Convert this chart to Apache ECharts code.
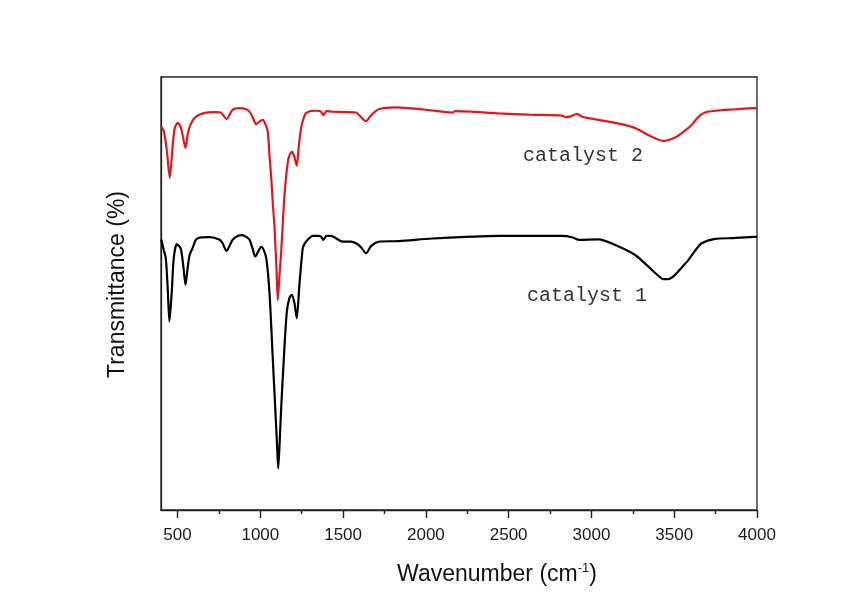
<!DOCTYPE html>
<html>
<head>
    <meta charset="utf-8">
    <title>FTIR</title>
    <script src="https://cdn.jsdelivr.net/npm/echarts@6/dist/echarts.min.js"></script>
    <style>
        html, body { margin: 0; padding: 0; background: #fff; }
        #chart { width: 862px; height: 604px; }
    </style>
</head>
<body>
    <div id="chart"></div>
<script type="text/javascript">
    // wavenumber (cm-1) and transmittance readings
    var wn2 = [402,417,435,453,471,483,501,519,534,548,561,573,604,652,724,760,796,832,875,911,935,953,974,995,1015,1031,1045,1055,1066,1076,1086,1098,1105,1116,1126,1146,1166,1179,1192,1206,1220,1233,1246,1260,1277,1326,1363,1381,1399,1435,1507,1578,1607,1638,1670,1718,1819,1989,2160,2176,2441,2622,2822,2843,2875,2913,2943,2983,3104,3194,3264,3364,3435,3505,3555,3605,3646,3686,3746,3856,3987,4000];
    var t2 = [88.5,87.5,83.1,76.7,84.3,88.2,89.4,88.5,85.9,83.6,86.6,88.5,90.6,91.6,91.9,91.8,90.3,92.4,92.8,92.6,92.0,90.8,89.1,89.7,90.1,89.1,87.4,82.0,76.7,70.4,65.1,55.4,48.5,54.3,59.7,72.7,80.4,82.2,82.7,81.5,79.5,84.3,88.2,90.3,91.7,92.2,92.1,91.2,92.1,92.0,91.9,91.8,90.8,89.8,91.2,92.6,93.0,92.5,91.8,92.1,91.6,91.3,91.1,90.7,90.9,91.5,90.8,90.5,89.7,89.0,88.2,86.2,85.2,86.0,87.3,88.9,90.8,91.8,92.2,92.5,92.8,92.8];

    var wn1 = [402,417,429,441,451,465,477,495,519,534,548,561,573,592,610,634,694,754,772,796,814,833,863,893,917,935,953,969,986,1005,1019,1036,1055,1075,1090,1101,1108,1116,1126,1142,1160,1176,1190,1206,1220,1236,1256,1266,1286,1316,1346,1365,1381,1399,1427,1497,1548,1578,1608,1638,1670,1718,1839,2039,2441,2822,2882,2923,3043,3144,3264,3344,3392,3435,3465,3505,3543,3585,3628,3666,3746,3856,3987,4000];
    var t1 = [62.4,60.0,58.2,50.8,43.5,50.4,58.2,61.4,60.4,56.6,52.0,55.9,58.9,60.6,62.4,62.9,63.0,62.4,61.6,59.8,61.0,62.4,63.3,63.5,63.0,62.4,60.4,58.5,59.6,60.8,60.2,58.1,50.4,35.1,23.6,15.0,9.6,15.0,23.6,35.1,45.8,49.0,49.7,47.8,44.3,52.0,60.4,61.4,62.4,63.3,63.3,63.2,62.4,63.3,63.3,62.0,62.0,61.6,60.7,59.3,61.0,62.0,62.1,62.7,63.3,63.3,63.0,62.4,62.5,61.2,58.9,56.2,54.5,53.3,53.3,54.3,55.9,57.7,60.0,61.6,62.6,62.8,63.1,63.1];

    var majorTicks = [500,1000,1500,2000,2500,3000,3500,4000];
    var minorTicks = [750,1250,1750,2250,2750,3250,3750];

    function pairs(xs, ys) {
        var out = [];
        for (var i = 0; i < xs.length; i++) out.push([xs[i], ys[i]]);
        return out;
    }

    // extra bottom axis that only draws a set of ticks
    function tickAxis(values, len) {
        return {
            type: 'value', min: 400, max: 4000, position: 'bottom',
            splitLine: { show: false },
            axisLine: { show: false },
            axisLabel: { show: false },
            axisTick: { show: true, inside: false, length: len, customValues: values,
                lineStyle: { color: '#222', width: 1.4 } }
        };
    }

    var myChart = echarts.init(document.getElementById('chart'));
    myChart.setOption({
        backgroundColor: '#fff',
        animation: false,
        grid: {
            left: 161, right: 105, top: 77, bottom: 94,
            containLabel: false, outerBoundsMode: 'none',
            show: true, borderColor: '#222', borderWidth: 1.3
        },
        xAxis: [{
            type: 'value', min: 400, max: 4000,
            splitLine: { show: false },
            axisLine: { show: true, lineStyle: { color: '#222', width: 1.3 } },
            axisTick: { show: false },
            axisLabel: { customValues: majorTicks, margin: 17, color: '#1a1a1a', fontSize: 17,
                fontFamily: 'Liberation Sans',
                formatter: function (v) { return String(v); } },
            name: '{a|Wavenumber (cm}{s|-1}{a|)}',
            nameLocation: 'middle', nameGap: 52,
            nameTextStyle: {
                padding: [0, 0, 0, 76],
                rich: {
                    a: { fontSize: 23, color: '#111', fontFamily: 'Liberation Sans' },
                    s: { fontSize: 13, color: '#111', fontFamily: 'Liberation Sans',
                        verticalAlign: 'top', padding: [0, 0, 12, 0] }
                }
            }
        }, tickAxis(majorTicks, 8), tickAxis(minorTicks, 4)],
        yAxis: {
            type: 'value', min: 0, max: 100,
            splitLine: { show: false },
            axisLine: { show: true, lineStyle: { color: '#222', width: 1.3 } },
            axisTick: { show: false },
            axisLabel: { show: false },
            name: 'Transmittance (%)',
            nameLocation: 'middle', nameGap: 32,
            nameTextStyle: { fontSize: 23, color: '#111', fontFamily: 'Liberation Sans',
                padding: [0, 0, 0, 18] }
        },
        graphic: [
            { type: 'text', left: 523, top: 146,
              style: { text: 'catalyst 2', fontSize: 20, fill: '#333', fontFamily: 'Liberation Mono' } },
            { type: 'text', left: 527, top: 286,
              style: { text: 'catalyst 1', fontSize: 20, fill: '#333', fontFamily: 'Liberation Mono' } }
        ],
        series: [{
            name: 'catalyst 1', type: 'line', data: pairs(wn1, t1),
            showSymbol: false, smooth: 0.25,
            lineStyle: { color: '#000', width: 2.2 }
        }, {
            name: 'catalyst 2', type: 'line', data: pairs(wn2, t2),
            showSymbol: false, smooth: 0.25,
            lineStyle: { color: '#e8141c', width: 2.2 }
        }]
    });
</script>
</body>
</html>
